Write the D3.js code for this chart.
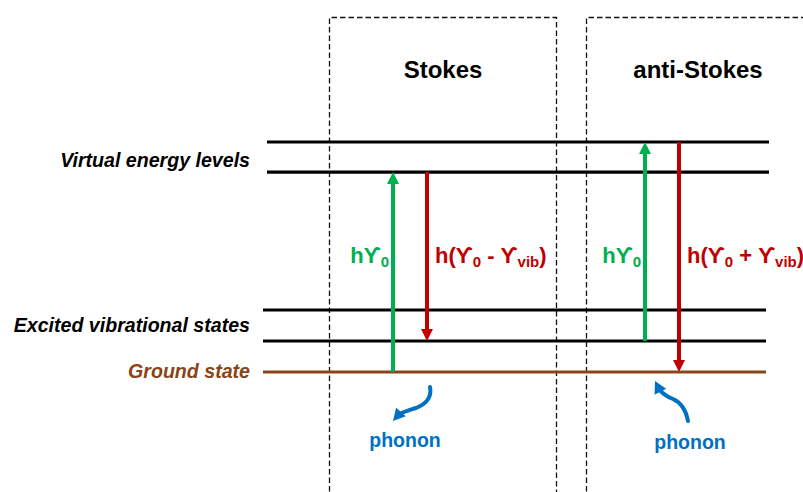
<!DOCTYPE html>
<html>
<head>
<meta charset="utf-8">
<script src="https://cdn.jsdelivr.net/npm/d3@7"></script>
<style>
  html, body { margin: 0; padding: 0; background: #fff; }
  svg { display: block; font-family: "Liberation Sans", Arial, sans-serif; }
</style>
</head>
<body>
<svg id="chart" width="803" height="492"></svg>
<script>
// ---------------- data ----------------
const levelNames    = ["Ground state", "Excited vibrational state 1", "Excited vibrational state 2", "Virtual level 1", "Virtual level 2"];
const levelEnergies = [0, 1, 2, 6.45, 7.42];
const levelKinds    = ["ground", "excited", "excited", "virtual", "virtual"];

const sideLabels       = ["Virtual energy levels", "Excited vibrational states", "Ground state"];
const sideLabelEnergy  = [6.8, 1.5, 0];
const sideLabelKind    = ["virtual", "excited", "ground"];

const panels        = ["Stokes", "anti-Stokes"];
const absorbFrom    = [0, 1];       // green arrow, start energy
const absorbTo      = [6.45, 7.42]; // green arrow, end energy
const emitFrom      = [6.45, 7.42]; // red arrow, start energy
const emitTo        = [1, 0];       // red arrow, end energy
const emitOperator  = ["-", "+"];
const phononLabel   = "phonon";
const phononDir     = ["out", "in"];

// ---------------- layout ----------------
const svg = d3.select("#chart");
const green = "#00b050", red = "#c00000", blue = "#0070c0", brown = "#8a4416";

const y = d3.scaleLinear().domain([0, 1]).range([372, 341]);
const absorbX = d3.scaleLinear().domain([0, 1]).range([393, 645]);
const emitX   = d3.scaleLinear().domain([0, 1]).range([427, 679]);

// dashed panel boxes
const boxPaths = [
  `M329.5,500 L329.5,17.5 L556.5,17.5 L556.5,500`,
  `M586.5,500 L586.5,17.5 L810,17.5`
];
svg.selectAll("path.box").data(boxPaths).join("path")
  .attr("class", "box").attr("d", d => d)
  .attr("fill", "none").attr("stroke", "#111").attr("stroke-width", 1.3)
  .attr("stroke-dasharray", "5.5,3");

// titles
const titleX = [443, 698];
svg.selectAll("text.title").data(panels).join("text")
  .attr("class", "title")
  .attr("x", (d, i) => titleX[i]).attr("y", 78)
  .attr("text-anchor", "middle")
  .attr("font-size", 24).attr("font-weight", "bold").attr("fill", "#000")
  .text(d => d);

// energy levels
const levelX = { virtual: [267, 769], excited: [263, 766], ground: [263, 766] };
svg.selectAll("line.level").data(levelEnergies).join("line")
  .attr("class", "level")
  .attr("x1", (d, i) => levelX[levelKinds[i]][0])
  .attr("x2", (d, i) => levelX[levelKinds[i]][1])
  .attr("y1", d => y(d)).attr("y2", d => y(d))
  .attr("stroke", (d, i) => levelKinds[i] === "ground" ? brown : "#000")
  .attr("stroke-width", 3.2);

// side labels
svg.selectAll("text.side").data(sideLabels).join("text")
  .attr("class", "side")
  .attr("x", 250)
  .attr("y", (d, i) => y(sideLabelEnergy[i]) + 6)
  .attr("text-anchor", "end")
  .attr("font-size", 19.6).attr("font-weight", "bold").attr("font-style", "italic")
  .attr("fill", (d, i) => sideLabelKind[i] === "ground" ? brown : "#000")
  .text(d => d);

// vertical arrows
function vArrow(x, y0, y1, color) {
  const dir = y1 < y0 ? -1 : 1;
  const headL = 12, headW = 6;
  svg.append("line")
    .attr("x1", x).attr("x2", x)
    .attr("y1", y0).attr("y2", y1 - dir * (headL - 1))
    .attr("stroke", color).attr("stroke-width", 4);
  svg.append("path")
    .attr("d", `M${x},${y1} L${x - headW},${y1 - dir * headL} L${x + headW},${y1 - dir * headL} Z`)
    .attr("fill", color);
}
panels.forEach((p, i) => {
  vArrow(absorbX(i), y(absorbFrom[i]), y(absorbTo[i]), green);
  vArrow(emitX(i), y(emitFrom[i]), y(emitTo[i]), red);
});

// labels with subscripts
const ups = "\u03D2";
panels.forEach((p, i) => {
  const g = svg.append("text")
    .attr("x", absorbX(i) - 4).attr("y", 263)
    .attr("text-anchor", "end")
    .attr("font-size", 22).attr("font-weight", "bold").attr("fill", green);
  g.append("tspan").text("h" + ups);
  g.append("tspan").attr("font-size", 15).attr("dy", 4).text("0");

  const r = svg.append("text")
    .attr("x", emitX(i) + 8).attr("y", 263)
    .attr("font-size", 22).attr("font-weight", "bold").attr("fill", red);
  r.append("tspan").text("h(" + ups);
  r.append("tspan").attr("font-size", 15).attr("dy", 4).text("0");
  r.append("tspan").attr("dy", -4).text(" " + emitOperator[i] + " " + ups);
  r.append("tspan").attr("font-size", 15).attr("dy", 4).text("vib");
  r.append("tspan").attr("dy", -4).text(")");
});

// phonon arrows
const phononPaths = {
  out: { d: "M430,387 C432,397 426,404 416,408 C410,410 405,411 400,414", tip: [393, 421], base: [401, 412] },
  in:  { d: "M688,421 C686,410 682,403 673,399 C665,396 662,393 659,389", tip: [655, 381], base: [660, 391] }
};
function headAt(tip, from, color) {
  const dx = tip[0] - from[0], dy = tip[1] - from[1];
  const L = Math.hypot(dx, dy), ux = dx / L, uy = dy / L;
  const hl = 12, hw = 6.5;
  const bx = tip[0] - ux * hl, by = tip[1] - uy * hl;
  svg.append("path")
    .attr("d", `M${tip[0]},${tip[1]} L${bx - uy * hw},${by + ux * hw} L${bx + uy * hw},${by - ux * hw} Z`)
    .attr("fill", color);
}
const phononTextX = [405, 690];
const phononTextY = [447, 449];
phononDir.forEach((dir, i) => {
  const pp = phononPaths[dir];
  svg.append("path").attr("d", pp.d)
    .attr("fill", "none").attr("stroke", blue).attr("stroke-width", 4).attr("stroke-linecap", "round");
  headAt(pp.tip, pp.base, blue);
  svg.append("text")
    .attr("x", phononTextX[i]).attr("y", phononTextY[i])
    .attr("text-anchor", "middle")
    .attr("font-size", 19.5).attr("font-weight", "bold").attr("fill", blue)
    .text(phononLabel);
});
</script>
</body>
</html>
